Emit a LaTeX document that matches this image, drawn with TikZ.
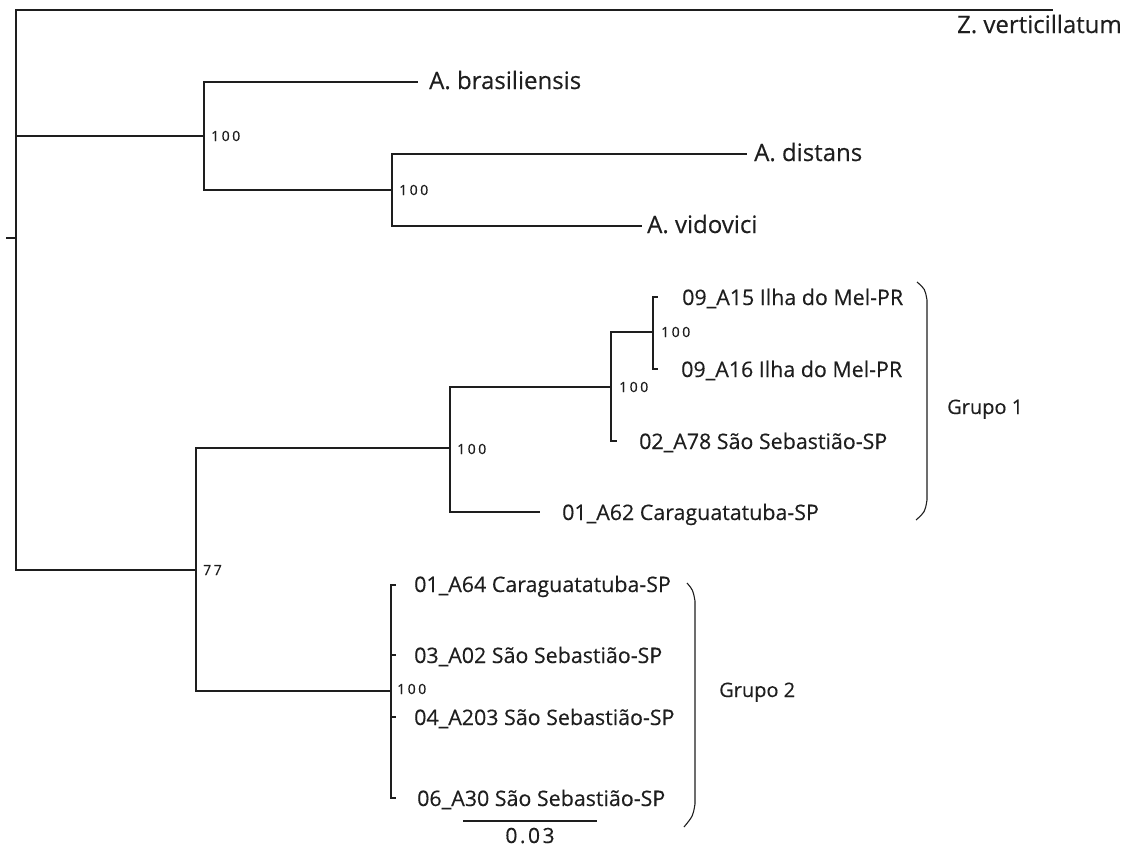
\documentclass[tikz,border=0pt]{standalone}
\usepackage{fontspec}
\setmainfont[FakeBold=0.35]{Open Sans}
\newfontfamily\bsfont[LetterSpace=18,FakeBold=0.3]{Open Sans}
\newfontfamily\scfont[LetterSpace=12,FakeBold=0.35]{Open Sans}
\definecolor{ink}{HTML}{1E1E1E}
\begin{document}
\begin{tikzpicture}[x=1pt,y=-1pt,
  br/.style={draw=ink,line width=1.3pt},
  tip/.style={anchor=base west,inner sep=0pt,text=ink,font=\fontsize{21.4}{24}\selectfont},
  sp/.style={anchor=base west,inner sep=0pt,text=ink,font=\fontsize{24}{26}\selectfont},
  bs/.style={anchor=west,inner sep=0pt,text=ink,font=\bsfont\fontsize{14}{16}\selectfont},
  grp/.style={anchor=base west,inner sep=0pt,text=ink,font=\fontsize{20}{22}\selectfont}]
\useasboundingbox (0,0) rectangle (1130,846);
% coordinates
\coordinate (r0) at (6,238);
\coordinate (r) at (16,238);
\coordinate (zt) at (1053,10);
\coordinate (nA) at (204,136);
\coordinate (brt) at (418,82);
\coordinate (nA2) at (392,190);
\coordinate (dit) at (747,154);
\coordinate (vit) at (642,226);
\coordinate (nB) at (196,570);
\coordinate (nG1) at (450,448);
\coordinate (nG1a) at (611,387);
\coordinate (nG1b) at (653,332);
\coordinate (a15) at (658,297);
\coordinate (a16) at (658,369);
\coordinate (a78) at (617,441);
\coordinate (a62) at (540,512);
\coordinate (nG2) at (391,691);
\coordinate (a64) at (396,585);
\coordinate (a02) at (396,655);
\coordinate (a203) at (396,717);
\coordinate (a30) at (396,798);
% branches
\draw[br] (r0) -- (r);
\draw[br] (r) |- (zt);
\draw[br] (r) |- (nA);
\draw[br] (r) |- (nB);
\draw[br] (nA) |- (brt);
\draw[br] (nA) |- (nA2);
\draw[br] (nA2) |- (dit);
\draw[br] (nA2) |- (vit);
\draw[br] (nB) |- (nG1);
\draw[br] (nB) |- (nG2);
\draw[br] (nG1) |- (nG1a);
\draw[br] (nG1) |- (a62);
\draw[br] (nG1a) |- (nG1b);
\draw[br] (nG1a) |- (a78);
\draw[br] (nG1b) |- (a15);
\draw[br] (nG1b) |- (a16);
\draw[br] (nG2) |- (a64);
\draw[br] (nG2) |- (a02);
\draw[br] (nG2) |- (a203);
\draw[br] (nG2) |- (a30);
% labels
\node[sp,anchor=base east] (lz) at (1122,33) {Z. verticillatum};
\node[sp] (lbr) at (429,89) {A. brasiliensis};
\node[sp] (ldi) at (754,161) {A. distans};
\node[sp] (lvi) at (647,233) {A. vidovici};
\node[tip] (l15) at (682,305) {09\_A15 Ilha do Mel-PR};
\node[tip] (l16) at (681,377) {09\_A16 Ilha do Mel-PR};
\node[tip] (l78) at (639,449) {02\_A78 São Sebastião-SP};
\node[tip] (l62) at (562,520) {01\_A62 Caraguatatuba-SP};
\node[tip] (l64) at (414,592) {01\_A64 Caraguatatuba-SP};
\node[tip] (l02) at (414,663) {03\_A02 São Sebastião-SP};
\node[tip] (l203) at (414,725) {04\_A203 São Sebastião-SP};
\node[tip] (l30) at (417,806) {06\_A30 São Sebastião-SP};
% bootstrap
\node[bs] (b1) at (211,136) {100};
\node[bs] (b2) at (399,190) {100};
\node[bs] (b3) at (457,449) {100};
\node[bs] (b4) at (619,387) {100};
\node[bs] (b5) at (661,332) {100};
\node[bs] (b6) at (203,570) {77};
\node[bs] (b7) at (397,689) {100};
% brackets
\coordinate (g1t) at (917,282);
\coordinate (g1b) at (916,520);
\draw[br,line width=1.1pt] (g1t) .. controls (925,289) .. (927,300) -- (927,500) .. controls (925,512) .. (g1b);
\node[grp] (g1) at (947,414) {Grupo 1};
\coordinate (g2t) at (687,583);
\coordinate (g2b) at (684,827);
\draw[br,line width=1.1pt] (g2t) .. controls (693,590) .. (695,601) -- (695,804) .. controls (693,816) .. (g2b);
\node[grp] (g2) at (719,697) {Grupo 2};
% scale bar
\coordinate (s1) at (463,821);
\coordinate (s2) at (597,821);
\draw[br] (s1) -- (s2);
\node[anchor=base,inner sep=0pt,text=ink,font=\scfont\fontsize{21}{23}\selectfont] (sl) at (530,843) {0.03};
\end{tikzpicture}
\end{document}
